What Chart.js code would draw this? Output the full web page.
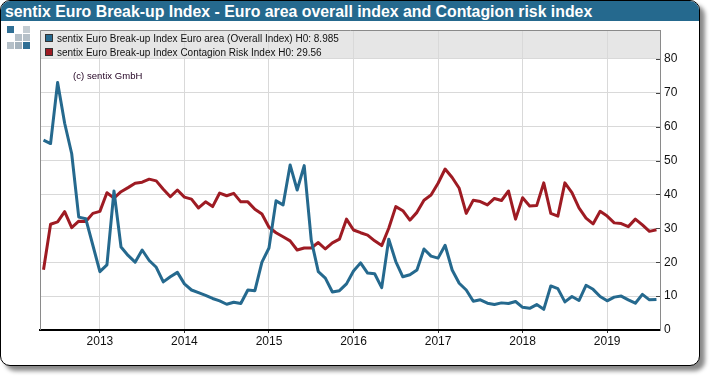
<!DOCTYPE html>
<html><head><meta charset="utf-8">
<script src="https://cdn.jsdelivr.net/npm/chart.js@4/dist/chart.umd.min.js"></script>
<style>
html,body{margin:0;padding:0;background:#fff;overflow:hidden}
#frame{position:absolute;left:0;top:0;width:698px;height:364px;border:1px solid #000;border-radius:10px;background:#fff;box-shadow:5px 5px 4px #8a8a8a;overflow:hidden}
#title{position:absolute;left:0;top:0;right:0;height:20px;background:#25698e;color:#fff;font:bold 15.85px "Liberation Sans",Arial,sans-serif;line-height:21px;padding-left:4px;white-space:nowrap}
.sq{position:absolute;width:7px;height:7px}
#wrap{position:absolute;left:0;top:0;width:710px;height:376px}
</style></head><body>
<div id="frame"><div id="title">sentix Euro Break-up Index - Euro area overall index and Contagion risk index</div></div>
<div class="sq" style="left:7px;top:26px;background:#2f6f95"></div>
<div class="sq" style="left:23px;top:26px;background:#c3ccd2"></div>
<div class="sq" style="left:15px;top:34px;background:#b5c0c8"></div>
<div class="sq" style="left:23px;top:34px;background:#b5c0c8"></div>
<div class="sq" style="left:7px;top:42px;background:#b5c0c8"></div>
<div class="sq" style="left:15px;top:42px;background:#a5b3bd"></div>
<div class="sq" style="left:23px;top:42px;background:#2f6f95"></div>
<div id="wrap"><canvas id="c" width="710" height="376"></canvas></div>
<script>
const startYear = 2012, startMonth = 5, monthCount = 88;
const overallName = "sentix Euro Break-up Index Euro area (Overall Index) H0: 8.985";
const contagionName = "sentix Euro Break-up Index Contagion Risk Index H0: 29.56";
const copyrightText = "(c) sentix GmbH";
const overall = [56,55,73,61,52,33.3,32.8,25,17.2,19.2,41,24.5,22,20,23.6,20.5,18.5,14.2,15.7,17,
 13.6,11.8,11,10.2,9.3,8.6,7.6,8.2,7.8,11.8,11.6,20,24.2,38.1,36.9,48.7,41.3,48.5,26.5,17.2,
 15.3,11.2,11.6,13.6,17.4,19.8,16.8,16.6,12.5,26.8,20.2,15.7,16.3,17.7,23.9,21.8,21.2,25,17.7,13.8,
 11.8,8.5,8.9,7.9,7.5,8,7.8,8.4,6.7,6.4,7.5,6.1,13,12.2,8.3,9.9,8.7,13.2,12,9.9,
 8.6,9.7,10,8.9,7.9,10.5,8.9,8.985];
const contagion = [17.8,31.2,31.9,34.9,30.2,32.1,32,34.4,35,40.5,38.9,40.8,42,43.3,43.6,44.5,44,41.5,39.3,41.3,
 39.2,38.6,36,37.8,36.4,40.4,39.6,40.3,37.8,37.8,35.6,34.2,30.3,28.7,27.5,26.3,23.6,24.2,24.2,25.8,
 23.9,25.7,26.8,32.7,29.5,28.7,28,26.3,24.9,30,36.4,35.2,32.4,34.7,38.3,39.8,43.3,47.5,45,41.8,
 34.4,38.3,37.9,36.9,38.8,38.2,41,32.7,39,36.6,36.7,43.4,34.4,33.6,43.4,40.5,36,33,31.3,35,
 33.6,31.6,31.4,30.5,32.7,31,29.1,29.56];
const months = [];
for (let i = 0; i < monthCount; i++) {
  const m = startMonth - 1 + i;
  months.push((startYear + Math.floor(m / 12)) + "-" + String(m % 12 + 1).padStart(2, "0"));
}
const BLUE = "#25698e", RED = "#9e1b23", GRID = "#d9d9d9", AXIS = "#8a8a8a";
const FONT = '"Liberation Sans", Arial, sans-serif';

const decor = {
  id: "decor",
  beforeDraw(ch) {
    const a = ch.chartArea, c = ch.ctx, y80 = ch.scales.y.getPixelForValue(80);
    c.save();
    c.fillStyle = "#e6e6e6";
    c.fillRect(a.left, a.top, a.right - a.left, y80 - a.top);
    c.restore();
  },
  afterDraw(ch) {
    const a = ch.chartArea, c = ch.ctx, ys = ch.scales.y;
    c.save();
    c.strokeStyle = AXIS; c.lineWidth = 1;
    c.beginPath();
    c.moveTo(a.left + .5, a.bottom); c.lineTo(a.left + .5, a.top + .5);
    c.lineTo(a.right + .5, a.top + .5); c.lineTo(a.right + .5, a.bottom);
    c.stroke();
    c.strokeStyle = "#444";
    c.beginPath();
    ys.ticks.forEach(t => {
      if (t.value === 0) return;
      const p = Math.round(ys.getPixelForValue(t.value)) + .5;
      c.moveTo(a.right - 4, p); c.lineTo(a.right, p);
    });
    c.stroke();
    const sw = (y, col) => {
      c.fillStyle = col; c.fillRect(45.5, y + .5, 7, 7);
      c.strokeStyle = "#333"; c.strokeRect(45.5, y + .5, 7, 7);
    };
    sw(34, BLUE); sw(48, RED);
    c.fillStyle = "#111"; c.textBaseline = "alphabetic"; c.textAlign = "left";
    c.font = "10px " + FONT;
    c.fillText(overallName, 57, 42);
    c.fillText(contagionName, 57, 56);
    c.font = "9.5px " + FONT;
    c.letterSpacing = "0.06px";
    c.fillStyle = "#220022";
    c.fillText(copyrightText, 73, 79);
    c.restore();
  }
};

new Chart(document.getElementById("c"), {
  type: "line",
  data: { labels: months, datasets: [
    { label: overallName, data: overall, borderColor: BLUE, borderWidth: 3, pointRadius: 0, tension: 0, order: 1, borderJoinStyle: "round" },
    { label: contagionName, data: contagion, borderColor: RED, borderWidth: 3, pointRadius: 0, tension: 0, order: 2, borderJoinStyle: "round" }
  ]},
  options: {
    responsive: false, animation: false, devicePixelRatio: 1,
    layout: { padding: { left: 40, right: 10, top: 30, bottom: 0 } },
    plugins: { legend: { display: false }, title: { display: false }, tooltip: { enabled: false } },
    scales: {
      x: {
        type: "category", offset: true,
        afterBuildTicks(s) { s.ticks = s.ticks.filter(t => months[t.value].endsWith("-01")); },
        afterFit(s) { s.height = 46; },
        grid: { color: GRID, lineWidth: 1, offset: false, tickColor: "#333", tickLength: 3 },
        border: { color: "#000", width: 2 },
        ticks: { autoSkip: false, maxRotation: 0, color: "#111", padding: 1, font: { family: FONT, size: 12 },
          callback(v) { return months[v].slice(0, 4); } }
      },
      y: {
        position: "right", min: 0, max: 88.5,
        afterBuildTicks(s) { s.ticks = s.ticks.filter(t => t.value <= 80); },
        afterFit(s) { s.width = 40; },
        grid: { color: GRID, lineWidth: 1, drawTicks: false },
        border: { color: AXIS, width: 1 },
        ticks: { stepSize: 10, color: "#111", padding: 4, font: { family: FONT, size: 12 } }
      }
    }
  },
  plugins: [decor]
});
</script>
</body></html>
